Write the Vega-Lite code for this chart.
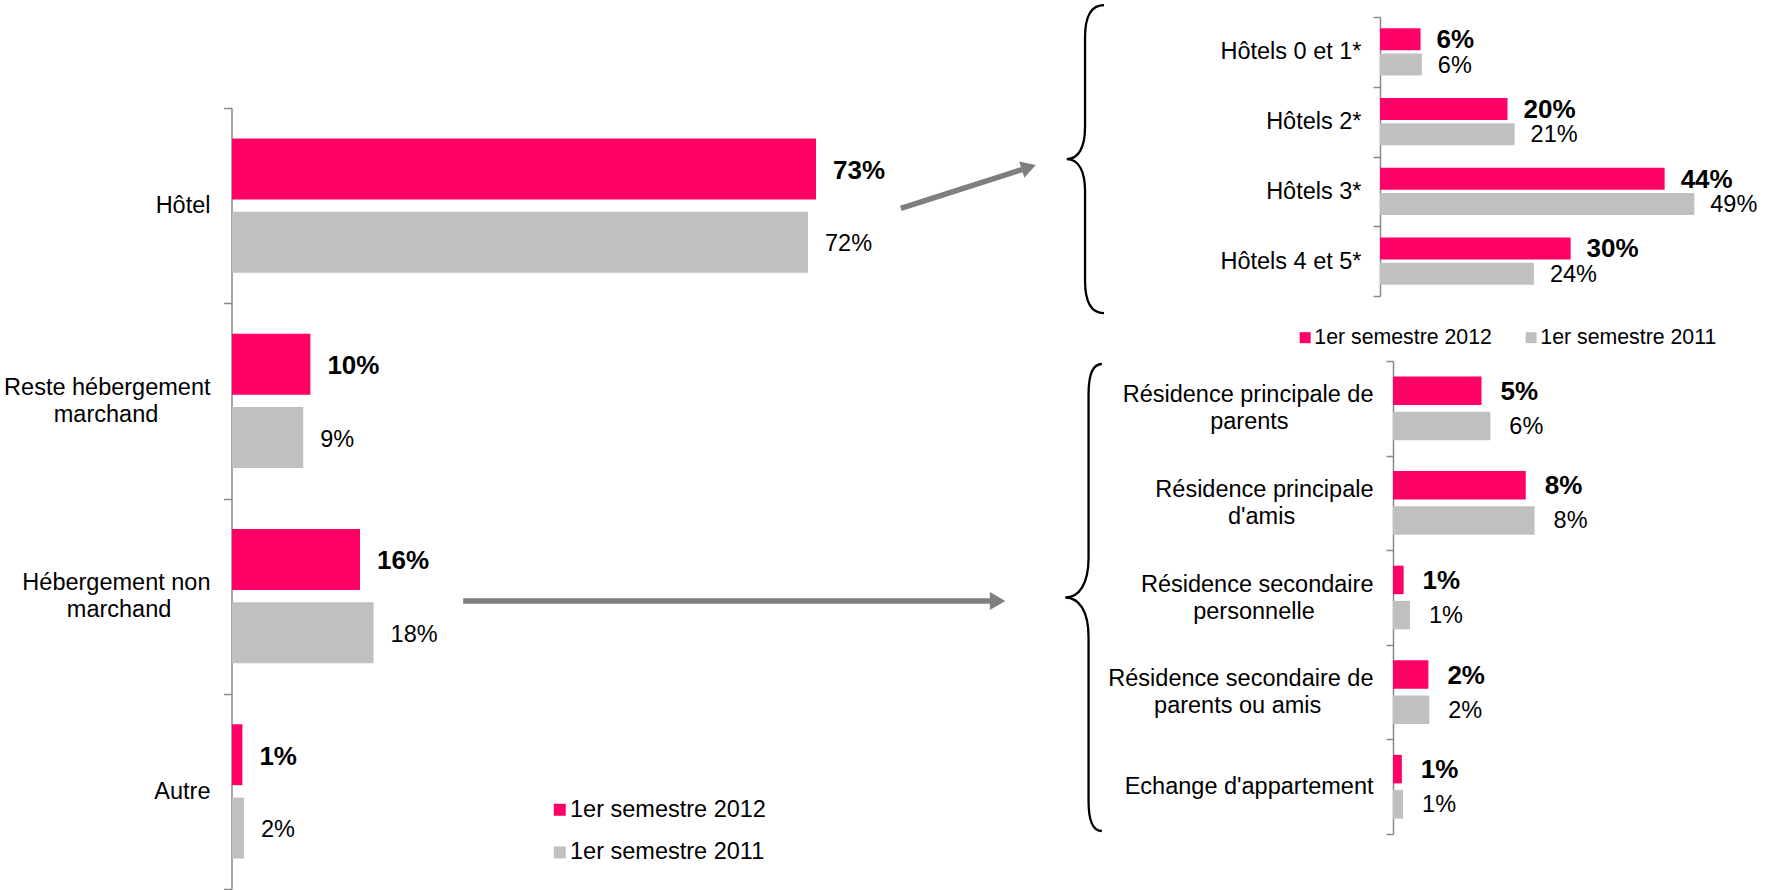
{
  "$schema": "https://vega.github.io/schema/vega-lite/v6.json",
  "width": 1771,
  "height": 890,
  "autosize": "none",
  "padding": 0,
  "background": "white",
  "config": {
    "view": {"stroke": null},
    "font": "Liberation Sans",
    "axis": {"labelFont": "Liberation Sans"},
    "legend": {"labelFont": "Liberation Sans"}
  },
  "datasets": {
    "principal": [
      {"categorie": "Hôtel", "periode": "1er semestre 2012", "valeur": 73, "etiquette": "73%"},
      {"categorie": "Hôtel", "periode": "1er semestre 2011", "valeur": 72, "etiquette": "72%"},
      {"categorie": "Reste hébergement marchand", "periode": "1er semestre 2012", "valeur": 9.8, "etiquette": "10%"},
      {"categorie": "Reste hébergement marchand", "periode": "1er semestre 2011", "valeur": 8.9, "etiquette": "9%"},
      {"categorie": "Hébergement non marchand", "periode": "1er semestre 2012", "valeur": 16, "etiquette": "16%"},
      {"categorie": "Hébergement non marchand", "periode": "1er semestre 2011", "valeur": 17.7, "etiquette": "18%"},
      {"categorie": "Autre", "periode": "1er semestre 2012", "valeur": 1.3, "etiquette": "1%"},
      {"categorie": "Autre", "periode": "1er semestre 2011", "valeur": 1.5, "etiquette": "2%"}
    ],
    "hotels": [
      {"categorie": "Hôtels 0 et 1*", "periode": "1er semestre 2012", "valeur": 6.3, "etiquette": "6%"},
      {"categorie": "Hôtels 0 et 1*", "periode": "1er semestre 2011", "valeur": 6.5, "etiquette": "6%"},
      {"categorie": "Hôtels 2*", "periode": "1er semestre 2012", "valeur": 19.8, "etiquette": "20%"},
      {"categorie": "Hôtels 2*", "periode": "1er semestre 2011", "valeur": 20.9, "etiquette": "21%"},
      {"categorie": "Hôtels 3*", "periode": "1er semestre 2012", "valeur": 44.2, "etiquette": "44%"},
      {"categorie": "Hôtels 3*", "periode": "1er semestre 2011", "valeur": 48.8, "etiquette": "49%"},
      {"categorie": "Hôtels 4 et 5*", "periode": "1er semestre 2012", "valeur": 29.6, "etiquette": "30%"},
      {"categorie": "Hôtels 4 et 5*", "periode": "1er semestre 2011", "valeur": 23.9, "etiquette": "24%"}
    ],
    "nonmarchand": [
      {"categorie": "Résidence principale de parents", "periode": "1er semestre 2012", "valeur": 5.0, "etiquette": "5%"},
      {"categorie": "Résidence principale de parents", "periode": "1er semestre 2011", "valeur": 5.5, "etiquette": "6%"},
      {"categorie": "Résidence principale d'amis", "periode": "1er semestre 2012", "valeur": 7.5, "etiquette": "8%"},
      {"categorie": "Résidence principale d'amis", "periode": "1er semestre 2011", "valeur": 8.0, "etiquette": "8%"},
      {"categorie": "Résidence secondaire personnelle", "periode": "1er semestre 2012", "valeur": 0.6, "etiquette": "1%"},
      {"categorie": "Résidence secondaire personnelle", "periode": "1er semestre 2011", "valeur": 0.96, "etiquette": "1%"},
      {"categorie": "Résidence secondaire de parents ou amis", "periode": "1er semestre 2012", "valeur": 2.0, "etiquette": "2%"},
      {"categorie": "Résidence secondaire de parents ou amis", "periode": "1er semestre 2011", "valeur": 2.05, "etiquette": "2%"},
      {"categorie": "Echange d'appartement", "periode": "1er semestre 2012", "valeur": 0.5, "etiquette": "1%"},
      {"categorie": "Echange d'appartement", "periode": "1er semestre 2011", "valeur": 0.57, "etiquette": "1%"}
    ]
  },
  "layer": [
    {
      "data": {"name": "principal"},
      "layer": [
        {
          "mark": {"type": "bar"},
          "encoding": {
            "y": {
              "field": "categorie", "type": "nominal",
              "scale": {"domain": ["Hôtel", "Reste hébergement marchand", "Hébergement non marchand", "Autre"], "range": [108, 889], "paddingInner": 0, "paddingOuter": 0},
              "axis": {
                "orient": "left", "offset": -231.5, "title": null, "grid": false,
                "domainColor": "#898989", "domainWidth": 1.5, "tickColor": "#898989", "tickWidth": 1.5, "tickSize": 8, "tickBand": "extent",
                "labelFontSize": 23.5, "labelColor": "black", "labelPadding": 13.5, "labelLimit": 0, "labelLineHeight": 27, "labelOverlap": false, "labelBound": false,
                "labelOffset": {"condition": {"test": "datum.value == 'Reste hébergement marchand' || datum.value == 'Hébergement non marchand'", "value": -13.5}, "value": 0},
                "labelExpr": "datum.label == 'Reste hébergement marchand' ? ['Reste hébergement', 'marchand\u00a0\u00a0\u00a0\u00a0\u00a0\u00a0\u00a0\u00a0\u200b'] : datum.label == 'Hébergement non marchand' ? ['Hébergement non', 'marchand\u00a0\u00a0\u00a0\u00a0\u00a0\u00a0\u200b'] : datum.label"
              }
            },
            "yOffset": {"field": "periode", "type": "nominal", "scale": {"domain": ["1er semestre 2012", "1er semestre 2011"], "paddingInner": 0.17, "paddingOuter": 0.416}},
            "x": {"field": "valeur", "type": "quantitative", "scale": {"domain": [0, 100], "range": [232, 1032], "nice": false}, "axis": null},
            "color": {
              "field": "periode", "type": "nominal",
              "scale": {"domain": ["1er semestre 2012", "1er semestre 2011"], "range": ["#FF0066", "#C0C0C0"]},
              "legend": {"orient": "none", "legendX": 548, "legendY": 798, "direction": "vertical", "title": null, "symbolType": "square", "symbolSize": 144, "symbolStrokeWidth": 0, "labelFontSize": 23.5, "labelColor": "black", "labelOffset": -1.5, "rowPadding": 17.7, "padding": 0, "labelLimit": 0}
            }
          }
        },
        {
          "mark": {"type": "text", "align": "left", "baseline": "middle", "dx": 17, "dy": 2, "color": "black",
            "fontSize": {"expr": "datum.periode === '1er semestre 2012' ? 26 : 23.5"},
            "fontWeight": {"expr": "datum.periode === '1er semestre 2012' ? 'bold' : 'normal'"}},
          "encoding": {
            "y": {"field": "categorie", "type": "nominal"},
            "yOffset": {"field": "periode", "type": "nominal"},
            "x": {"field": "valeur", "type": "quantitative", "axis": null},
            "text": {"field": "etiquette", "type": "nominal"}
          }
        },
        {
          "data": {"values": [{}]},
          "mark": {"type": "rule", "color": "#7F7F7F", "strokeWidth": 5.5, "yOffset": 2.7, "y2Offset": -36.1},
          "encoding": {
            "x": {"datum": 83.6, "type": "quantitative", "axis": null},
            "x2": {"datum": 98.75},
            "y": {"datum": "Hôtel", "type": "nominal", "bandPosition": 0.5},
            "y2": {"datum": "Hôtel", "bandPosition": 0.5}
          }
        },
        {
          "data": {"values": [{}]},
          "mark": {"type": "point", "shape": "triangle-right", "filled": true, "color": "#7F7F7F", "opacity": 1, "size": 289, "angle": -17.7, "yOffset": -38.3},
          "encoding": {
            "x": {"datum": 99.6, "type": "quantitative", "axis": null},
            "y": {"datum": "Hôtel", "type": "nominal"}
          }
        },
        {
          "data": {"values": [{}]},
          "mark": {"type": "rule", "color": "#7F7F7F", "strokeWidth": 5.5, "yOffset": 4.9},
          "encoding": {
            "x": {"datum": 28.9, "type": "quantitative", "axis": null},
            "x2": {"datum": 94.75},
            "y": {"datum": "Hébergement non marchand", "type": "nominal"}
          }
        },
        {
          "data": {"values": [{}]},
          "mark": {"type": "point", "shape": "triangle-right", "filled": true, "color": "#7F7F7F", "opacity": 1, "size": 324, "yOffset": 4.9},
          "encoding": {
            "x": {"datum": 95.7, "type": "quantitative", "axis": null},
            "y": {"datum": "Hébergement non marchand", "type": "nominal"}
          }
        }
      ]
    },
    {
      "data": {"name": "hotels"},
      "layer": [
        {
          "mark": {"type": "bar"},
          "encoding": {
            "y": {
              "field": "categorie", "type": "nominal",
              "scale": {"domain": ["Hôtels 0 et 1*", "Hôtels 2*", "Hôtels 3*", "Hôtels 4 et 5*"], "range": [17, 296], "paddingInner": 0, "paddingOuter": 0},
              "axis": {
                "orient": "left", "offset": -1380, "title": null, "grid": false,
                "domainColor": "#898989", "domainWidth": 1.5, "tickColor": "#898989", "tickWidth": 1.5, "tickSize": 7, "tickBand": "extent",
                "labelFontSize": 23.5, "labelColor": "black", "labelPadding": 12, "labelLimit": 0, "labelOverlap": false, "labelBound": false
              }
            },
            "yOffset": {"field": "periode", "type": "nominal", "scale": {"domain": ["1er semestre 2012", "1er semestre 2011"], "paddingInner": 0.134, "paddingOuter": 0.44}},
            "x": {"field": "valeur", "type": "quantitative", "scale": {"domain": [0, 50], "range": [1380, 1702], "nice": false}, "axis": null},
            "color": {
              "field": "periode", "type": "nominal",
              "scale": {"domain": ["1er semestre 2012", "1er semestre 2011"], "range": ["#FF0066", "#C0C0C0"]},
              "legend": {"orient": "none", "legendX": 1294.5, "legendY": 327, "direction": "horizontal", "title": null, "symbolType": "square", "symbolSize": 121, "symbolStrokeWidth": 0, "labelFontSize": 21.3, "labelColor": "black", "labelOffset": -1.5, "columnPadding": 28, "padding": 0, "labelLimit": 0}
            }
          }
        },
        {
          "mark": {"type": "text", "align": "left", "baseline": "middle", "dx": 16, "dy": 1, "color": "black",
            "fontSize": {"expr": "datum.periode === '1er semestre 2012' ? 26 : 23.5"},
            "fontWeight": {"expr": "datum.periode === '1er semestre 2012' ? 'bold' : 'normal'"}},
          "encoding": {
            "y": {"field": "categorie", "type": "nominal"},
            "yOffset": {"field": "periode", "type": "nominal"},
            "x": {"field": "valeur", "type": "quantitative", "axis": null},
            "text": {"field": "etiquette", "type": "nominal"}
          }
        },
        {
          "data": {"values": [{}]},
          "mark": {"type": "point", "filled": false, "stroke": "black", "strokeWidth": 2.3, "opacity": 1, "size": 94864, "yOffset": 37.4,
            "shape": "M0.123,-1 C0.04,-1 0,-0.93 0,-0.79 L0,-0.21 C0,-0.08 -0.04,0 -0.119,0 C-0.04,0 0,0.08 0,0.21 L0,0.79 C0,0.93 0.04,1 0.123,1"},
          "encoding": {
            "x": {"datum": -45.8, "type": "quantitative", "axis": null},
            "y": {"datum": "Hôtels 2*", "type": "nominal"}
          }
        }
      ]
    },
    {
      "data": {"name": "nonmarchand"},
      "layer": [
        {
          "mark": {"type": "bar"},
          "encoding": {
            "y": {
              "field": "categorie", "type": "nominal",
              "scale": {"domain": ["Résidence principale de parents", "Résidence principale d'amis", "Résidence secondaire personnelle", "Résidence secondaire de parents ou amis", "Echange d'appartement"], "range": [361, 834], "paddingInner": 0, "paddingOuter": 0},
              "axis": {
                "orient": "left", "offset": -1393, "title": null, "grid": false,
                "domainColor": "#898989", "domainWidth": 1.5, "tickColor": "#898989", "tickWidth": 1.5, "tickSize": 7, "tickBand": "extent",
                "labelFontSize": 23.5, "labelColor": "black", "labelPadding": 13, "labelLimit": 0, "labelLineHeight": 27, "labelOverlap": false, "labelBound": false,
                "labelOffset": {"condition": {"test": "datum.value != \"Echange d'appartement\"", "value": -13.5}, "value": 0},
                "labelExpr": "datum.label == 'Résidence principale de parents' ? ['Résidence principale de', 'parents\u00a0\u00a0\u00a0\u00a0\u00a0\u00a0\u00a0\u00a0\u00a0\u00a0\u00a0\u00a0\u00a0\u200b'] : datum.label == \"Résidence principale d'amis\" ? ['Résidence principale', \"d'amis\u00a0\u00a0\u00a0\u00a0\u00a0\u00a0\u00a0\u00a0\u00a0\u00a0\u00a0\u00a0\u200b\"] : datum.label == 'Résidence secondaire personnelle' ? ['Résidence secondaire', 'personnelle\u00a0\u00a0\u00a0\u00a0\u00a0\u00a0\u00a0\u00a0\u00a0\u200b'] : datum.label == 'Résidence secondaire de parents ou amis' ? ['Résidence secondaire de', 'parents ou amis\u00a0\u00a0\u00a0\u00a0\u00a0\u00a0\u00a0\u00a0\u200b'] : datum.label"
              }
            },
            "yOffset": {"field": "periode", "type": "nominal", "scale": {"domain": ["1er semestre 2012", "1er semestre 2011"], "paddingInner": 0.19, "paddingOuter": 0.44}},
            "x": {"field": "valeur", "type": "quantitative", "scale": {"domain": [0, 10], "range": [1393, 1570], "nice": false}, "axis": null},
            "color": {
              "field": "periode", "type": "nominal",
              "scale": {"domain": ["1er semestre 2012", "1er semestre 2011"], "range": ["#FF0066", "#C0C0C0"]},
              "legend": null
            }
          }
        },
        {
          "mark": {"type": "text", "align": "left", "baseline": "middle", "dx": 19, "dy": 1, "color": "black",
            "fontSize": {"expr": "datum.periode === '1er semestre 2012' ? 26 : 23.5"},
            "fontWeight": {"expr": "datum.periode === '1er semestre 2012' ? 'bold' : 'normal'"}},
          "encoding": {
            "y": {"field": "categorie", "type": "nominal"},
            "yOffset": {"field": "periode", "type": "nominal"},
            "x": {"field": "valeur", "type": "quantitative", "axis": null},
            "text": {"field": "etiquette", "type": "nominal"}
          }
        },
        {
          "data": {"values": [{}]},
          "mark": {"type": "point", "filled": false, "stroke": "black", "strokeWidth": 2.3, "opacity": 1, "size": 218089,
            "shape": "M0.057,-1 C0.02,-1 0,-0.96 0,-0.87 L0,-0.17 C0,-0.06 -0.04,0 -0.1,0 C-0.04,0 0,0.06 0,0.17 L0,0.87 C0,0.96 0.02,1 0.057,1"},
          "encoding": {
            "x": {"datum": -17.2, "type": "quantitative", "axis": null},
            "y": {"datum": "Résidence secondaire personnelle", "type": "nominal"}
          }
        }
      ]
    }
  ],
  "resolve": {
    "scale": {"x": "independent", "y": "independent", "yOffset": "independent", "color": "independent"},
    "axis": {"x": "independent", "y": "independent"},
    "legend": {"color": "independent"}
  }
}
